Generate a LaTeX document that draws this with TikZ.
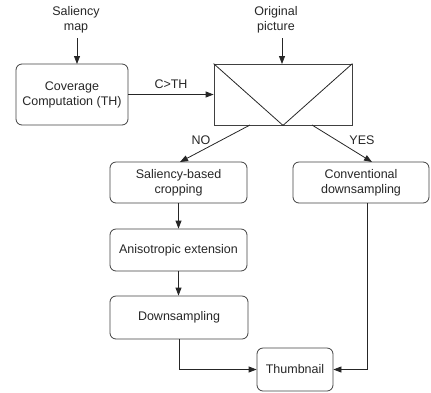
\documentclass[tikz,border=0pt]{standalone}
\usepackage{fontspec}
\setmainfont{Liberation Sans}
\usetikzlibrary{arrows.meta}
\begin{document}
\begin{tikzpicture}[x=1pt,y=-1pt,
  font=\fontsize{12.5}{15}\selectfont,
  box/.style={draw=black!75, line width=0.8pt, rounded corners=6pt, align=center, inner sep=0pt, text=black!85},
  lbl/.style={align=center, inner sep=0pt, text=black!85},
  conn/.style={draw=black!85, line width=0.8pt, -{Triangle[length=8pt,width=6pt]}},
  plain/.style={draw=black!85, line width=0.8pt}]
\useasboundingbox (0,0) rectangle (431,392);
\node[lbl] (sal) at (76,20) {Saliency\\map};
\node[lbl] (orig) at (276,20) {Original\\picture};
\node[box, minimum width=112pt, minimum height=61pt] (cov) at (72,94.5) {Coverage\\Computation (TH)};
\node[draw=black!75, line width=0.8pt, minimum width=138pt, minimum height=61pt, inner sep=0pt] (dec) at (283,94.5) {};
\draw[plain] (dec.north west) -- (dec.south) -- (dec.north east);
\node[box, minimum width=137pt, minimum height=41pt] (crop) at (178.5,182.5) {Saliency-based\\cropping};
\node[box, minimum width=136pt, minimum height=41pt] (conv) at (361,182.5) {Conventional\\downsampling};
\node[box, minimum width=137pt, minimum height=42pt] (aniso) at (178.5,250) {Anisotropic extension};
\node[box, minimum width=138pt, minimum height=43pt] (down) at (179,317.5) {Downsampling};
\node[box, minimum width=76pt, minimum height=43pt] (thumb) at (295,369.5) {Thumbnail};
\coordinate (s1) at (77,38);
\coordinate (s2) at (77,64);
\draw[conn] (s1) -- (s2);
\coordinate (o1) at (282,38);
\coordinate (o2) at (282,64);
\draw[conn] (o1) -- (o2);
\draw[conn] (cov.east) -- node[lbl, above=5pt] (cth) {C>TH} (dec.west);
\coordinate (n1) at (250,125);
\coordinate (n2) at (180,162);
\draw[conn] (n1) -- (n2);
\coordinate (y1) at (312,125);
\coordinate (y2) at (372,162);
\draw[conn] (y1) -- (y2);
\node[lbl] (no) at (201,140) {NO};
\node[lbl] (yes) at (362,140) {YES};
\draw[conn] (crop.south) -- (aniso.north);
\draw[conn] (aniso.south) -- (aniso.south |- down.north);
\draw[conn] (down.south) |- (thumb.west);
\coordinate (cv) at (367,203);
\draw[conn] (cv) |- (thumb.east);
\end{tikzpicture}
\end{document}
